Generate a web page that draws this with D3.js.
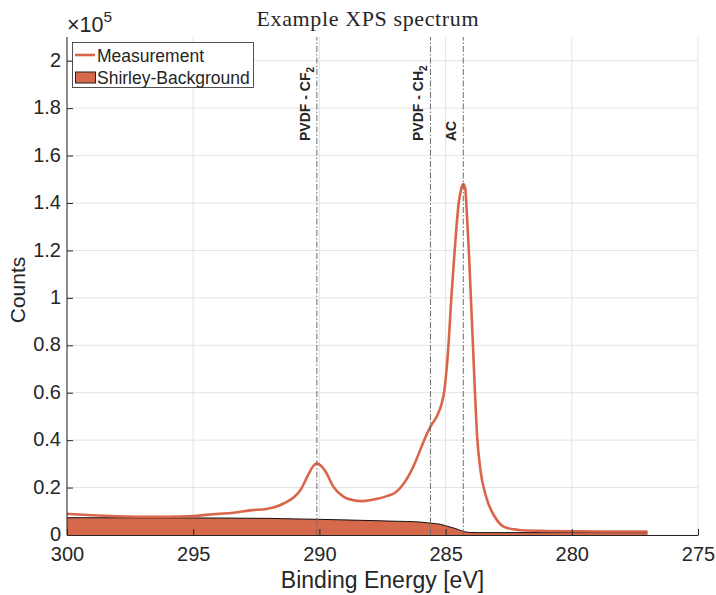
<!DOCTYPE html>
<html>
<head>
<meta charset="utf-8">
<script src="https://cdn.jsdelivr.net/npm/d3@7"></script>
<style>
  body { margin: 0; background: #fff; }
  svg { display: block; }
  text { font-family: "Liberation Sans", Arial, sans-serif; fill: #262626; }
</style>
</head>
<body>
<div id="chart"></div>
<script>
// measured spectrum (binding energy in eV, counts)
const measEnergy = [300.0, 299.0, 298.0, 297.0, 296.0, 295.0, 294.5, 294.0, 293.4, 292.75, 292.1, 291.7, 291.4, 291.0,
  290.75, 290.45, 290.25, 290.1, 289.95, 289.75, 289.45, 289.05, 288.7, 288.3, 287.7, 287.3, 287.0, 286.65, 286.25,
  286.0, 285.85, 285.6, 285.35, 285.15, 285.05, 284.88, 284.77, 284.64, 284.48, 284.38, 284.3, 284.22, 284.18, 284.08,
  284.0, 283.92, 283.84, 283.75, 283.62, 283.39, 283.05, 282.7, 282.3, 282.0, 281.0, 280.0, 279.0, 278.0, 277.0]
const measCounts = [8900, 8300, 7900, 7700, 7700, 8000, 8500, 8900, 9400, 10400, 11000, 12000, 13400, 16000,
  19000, 25200, 29000, 30200, 29300, 26700, 20400, 16200, 14800, 14300, 15300, 16500, 17800, 21800, 29500,
  36000, 40000, 45700, 50000, 55600, 61000, 81000, 100500, 120000, 140000, 146000, 148000, 146000, 140000, 120000,
  100500, 81000, 61000, 41500, 27400, 16000, 7700, 3500, 2400, 2000, 1700, 1600, 1500, 1500, 1500]

// Shirley background
const bgEnergy = [300.0, 295.0, 292.0, 290.0, 288.0, 287.0, 286.2, 285.6, 285.2, 285.0, 284.7, 284.5, 284.3, 284.0, 283.7, 283.0, 277.0]
const bgCounts = [7300, 7200, 7000, 6600, 6100, 5800, 5600, 5000, 4500, 3900, 3000, 2300, 1500, 1050, 1000, 1000, 1000]

// peak markers
const peakNames = ['PVDF - CF', 'PVDF - CH', 'AC']
const peakSubs = ['2', '2', '']
const peakEnergy = [290.1, 285.6, 284.3]

const xTicks = [300, 295, 290, 285, 280, 275]
const yTicks = [0, 20000, 40000, 60000, 80000, 100000, 120000, 140000, 160000, 180000, 200000]

const width = 716, height = 595
const margin = { top: 37, right: 18, bottom: 60, left: 67 }
const lineColor = '#D9664A'
const fillColor = '#D6694B'

const svg = d3.select('#chart').append('svg')
  .attr('width', width)
  .attr('height', height)

const x = d3.scaleLinear().domain([300, 275]).range([margin.left, width - margin.right])
const y = d3.scaleLinear().domain([0, 210000]).range([height - margin.bottom, margin.top])

// grid
const grid = svg.append('g').attr('stroke', '#e3e3e3').attr('stroke-width', 1)
grid.selectAll('line.gx').data(xTicks).enter().append('line')
  .attr('x1', d => x(d)).attr('x2', d => x(d))
  .attr('y1', y.range()[0]).attr('y2', y.range()[1])
grid.selectAll('line.gy').data(yTicks).enter().append('line')
  .attr('x1', x.range()[0]).attr('x2', x.range()[1])
  .attr('y1', d => y(d)).attr('y2', d => y(d))

// background area
const bgData = bgEnergy.map((e, i) => ({ e, c: bgCounts[i] }))
svg.append('path')
  .datum(bgData)
  .attr('fill', fillColor)
  .attr('d', d3.area().x(d => x(d.e)).y0(y(0)).y1(d => y(d.c)).curve(d3.curveMonotoneX))
svg.append('path')
  .datum(bgData)
  .attr('fill', 'none')
  .attr('stroke', '#111')
  .attr('stroke-width', 1)
  .attr('d', d3.line().x(d => x(d.e)).y(d => y(d.c)).curve(d3.curveMonotoneX))

// measurement
const measData = measEnergy.map((e, i) => ({ e, c: measCounts[i] }))
svg.append('path')
  .datum(measData)
  .attr('fill', 'none')
  .attr('stroke', lineColor)
  .attr('stroke-width', 2.6)
  .attr('stroke-linejoin', 'round')
  .attr('d', d3.line().x(d => x(d.e)).y(d => y(d.c)).curve(d3.curveMonotoneX))

// axes
const xAxis = svg.append('g')
  .attr('transform', `translate(0,${y(0)})`)
  .call(d3.axisBottom(x).tickValues(xTicks).tickSizeInner(-6).tickSizeOuter(0).tickPadding(12))
xAxis.select('.domain').attr('stroke', '#262626')
xAxis.selectAll('.tick line').attr('stroke', '#262626')
xAxis.selectAll('.tick text').attr('font-size', 20).attr('fill', '#262626')
  .attr('font-family', '"Liberation Sans", Arial, sans-serif')

const yAxis = svg.append('g')
  .attr('transform', `translate(${x(300)},0)`)
  .call(d3.axisLeft(y).tickValues(yTicks).tickSizeInner(-6).tickSizeOuter(0).tickPadding(6)
    .tickFormat(d => String(+(d / 1e5).toFixed(1))))
yAxis.select('.domain').attr('stroke', '#262626')
  .attr('d', `M0,${y(0)}V${margin.top}`)
yAxis.selectAll('.tick line').attr('stroke', '#262626')
yAxis.selectAll('.tick text').attr('font-size', 20).attr('fill', '#262626')
  .attr('font-family', '"Liberation Sans", Arial, sans-serif')
  .attr('dy', '0.28em')

// exponent
const expo = svg.append('text').attr('x', 67).attr('y', 32).attr('font-size', 21.5)
expo.append('tspan').text('×10')
expo.append('tspan').attr('font-size', 15.5).attr('dy', -10).text('5')

// peak marker lines
svg.selectAll('line.peak').data(peakEnergy).enter().append('line')
  .attr('x1', d => x(d)).attr('x2', d => x(d))
  .attr('y1', y(0)).attr('y2', margin.top)
  .attr('stroke', '#6b6b6b')
  .attr('stroke-width', 1)
  .attr('stroke-dasharray', '6,2,1.5,2')

peakEnergy.forEach((e, i) => {
  const t = svg.append('text')
    .attr('transform', `translate(${x(e) - 7},141) rotate(-90)`)
    .attr('font-size', 14)
    .attr('font-weight', 'bold')
    .attr('fill', '#000')
  t.append('tspan').text(peakNames[i])
  if (peakSubs[i]) t.append('tspan').attr('font-size', 10).attr('dy', 4).text(peakSubs[i])
})

// title and axis labels
svg.append('text')
  .attr('x', 367.5).attr('y', 26)
  .attr('text-anchor', 'middle')
  .attr('font-size', 22)
  .attr('textLength', 222)
  .attr('lengthAdjust', 'spacing')
  .style('font-family', '"Liberation Serif", "Times New Roman", serif')
  .attr('fill', '#000')
  .text('Example XPS spectrum')

svg.append('text')
  .attr('x', (x.range()[0] + x.range()[1]) / 2).attr('y', 588)
  .attr('text-anchor', 'middle')
  .attr('font-size', 23)
  .text('Binding Energy [eV]')

svg.append('text')
  .attr('transform', `translate(25,${(y.range()[0] + y.range()[1]) / 2 + 4}) rotate(-90)`)
  .attr('text-anchor', 'middle')
  .attr('font-size', 21)
  .text('Counts')

// legend
const lg = svg.append('g')
lg.append('rect').attr('x', 72.5).attr('y', 42.5).attr('width', 181).attr('height', 45)
  .attr('fill', '#fff').attr('stroke', '#262626').attr('stroke-width', 0.8)
lg.append('line').attr('x1', 75).attr('x2', 95).attr('y1', 55).attr('y2', 55)
  .attr('stroke', lineColor).attr('stroke-width', 2.6)
lg.append('text').attr('x', 97).attr('y', 61.5).attr('font-size', 17.5).attr('fill', '#000').text('Measurement')
lg.append('rect').attr('x', 75.5).attr('y', 72).attr('width', 20).attr('height', 11)
  .attr('fill', fillColor).attr('stroke', '#222').attr('stroke-width', 1)
lg.append('text').attr('x', 97).attr('y', 83.5).attr('font-size', 17.5).attr('fill', '#000').text('Shirley-Background')
</script>
</body>
</html>
